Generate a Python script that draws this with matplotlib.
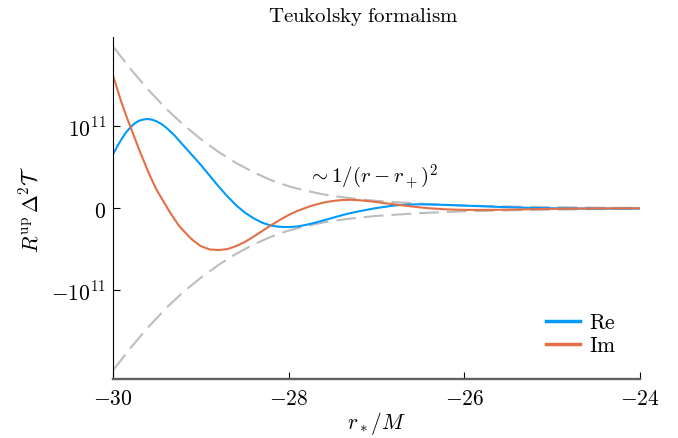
import matplotlib
matplotlib.use("Agg")
import matplotlib.pyplot as plt

plt.rcParams['mathtext.fontset'] = 'cm'
plt.rcParams['font.family'] = ['DejaVu Serif']

# r_*/M sample positions and values (in units of 1e11)
re_x = [-30.0, -29.95, -29.9, -29.85, -29.8, -29.75, -29.7, -29.65, -29.6, -29.55,
        -29.5, -29.45, -29.4, -29.3, -29.2, -29.1, -29.0, -28.9, -28.8, -28.7,
        -28.6, -28.5, -28.4, -28.3, -28.2, -28.1, -28.0, -27.9, -27.8, -27.7,
        -27.6, -27.5, -27.4, -27.3, -27.2, -27.1, -27.0, -26.9, -26.8, -26.7,
        -26.6, -26.5, -26.3, -26.1, -25.9, -25.6, -25.3, -25.0, -24.7, -24.4, -24.0]
re_y = [0.66, 0.76, 0.85, 0.93, 0.99, 1.04, 1.07, 1.085, 1.09, 1.08,
        1.06, 1.03, 0.99, 0.89, 0.77, 0.65, 0.53, 0.40, 0.27, 0.15,
        0.04, -0.05, -0.12, -0.175, -0.21, -0.225, -0.228, -0.22, -0.20, -0.175,
        -0.145, -0.115, -0.085, -0.058, -0.035, -0.015, 0.005, 0.02, 0.035, 0.043,
        0.048, 0.05, 0.046, 0.038, 0.03, 0.018, 0.008, 0.002, -0.001, -0.002, -0.001]

im_x = [-30.0, -29.95, -29.9, -29.85, -29.8, -29.75, -29.7, -29.65, -29.6, -29.55,
        -29.5, -29.45, -29.4, -29.35, -29.3, -29.25, -29.2, -29.1, -29.0, -28.9,
        -28.8, -28.7, -28.6, -28.5, -28.4, -28.3, -28.2, -28.1, -28.0, -27.9,
        -27.8, -27.7, -27.6, -27.5, -27.4, -27.3, -27.2, -27.1, -27.0, -26.9,
        -26.8, -26.7, -26.6, -26.5, -26.4, -26.2, -26.0, -25.8, -25.5, -25.2,
        -24.9, -24.6, -24.3, -24.0]
im_y = [1.62, 1.45, 1.28, 1.13, 0.99, 0.85, 0.71, 0.58, 0.45, 0.33,
        0.22, 0.13, 0.04, -0.05, -0.13, -0.21, -0.27, -0.38, -0.46, -0.50,
        -0.508, -0.497, -0.46, -0.41, -0.345, -0.275, -0.205, -0.14, -0.08, -0.03,
        0.01, 0.045, 0.072, 0.09, 0.102, 0.105, 0.10, 0.09, 0.077, 0.063,
        0.05, 0.037, 0.024, 0.012, 0.002, -0.012, -0.018, -0.019, -0.015, -0.009,
        -0.004, -0.001, 0.001, 0.001]

env_x = [-30.0, -29.8, -29.6, -29.4, -29.2, -29.0, -28.8, -28.6, -28.4, -28.2,
         -28.0, -27.8, -27.6, -27.4, -27.2, -27.0, -26.5, -26.0, -25.5, -25.0,
         -24.5, -24.0]
env_y = [1.975, 1.70, 1.45, 1.22, 1.02, 0.845, 0.69, 0.555, 0.44, 0.345,
         0.27, 0.215, 0.17, 0.138, 0.112, 0.092, 0.057, 0.036, 0.023, 0.015,
         0.009, 0.006]

scale = 1e11
xticks = [-30, -28, -26, -24]
xticklabels = [r'$-30$', r'$-28$', r'$-26$', r'$-24$']
yticks = [-1e11, 0, 1e11]
yticklabels = [r'$-10^{11}$', r'$0$', r'$10^{11}$']

fig = plt.figure(figsize=(6.78, 4.39), dpi=100)
ax = fig.add_axes([113/678, 1-380/439, (640-113)/678, (380-38)/439])

ax.plot(env_x, [v*scale for v in env_y], color='#bdbdbd', lw=1.5, dashes=(9.5, 3.8))
ax.plot(env_x, [-v*scale for v in env_y], color='#bdbdbd', lw=1.5, dashes=(9.5, 3.8))
ax.plot(re_x, [v*scale for v in re_y], color='#009AFA', lw=1.5, label=r'$\mathrm{Re}$')
ax.plot(im_x, [v*scale for v in im_y], color='#E36F47', lw=1.5, label=r'$\mathrm{Im}$')

ax.set_xlim(-30, -24)
ax.set_ylim(-2.08e11, 2.09e11)
ax.set_xticks(xticks)
ax.set_xticklabels(xticklabels, fontsize=15.5)
ax.set_yticks(yticks)
ax.set_yticklabels(yticklabels, fontsize=15.5)
ax.tick_params(direction='in', length=5, width=0.8)
ax.tick_params(axis='x', pad=6)
ax.tick_params(axis='y', pad=5)

for s in ['top', 'right']:
    ax.spines[s].set_visible(False)
ax.spines['left'].set_linewidth(0.8)
ax.spines['left'].set_color('black')
ax.spines['bottom'].set_linewidth(1.7)
ax.spines['bottom'].set_color('#606060')

ax.set_xlabel(r'$r_*/M$', fontsize=15.5, labelpad=0)
ax.set_ylabel(r'$R^{\mathrm{up}}\,\Delta^2\mathcal{T}$', fontsize=15.5, labelpad=6)
fig.text(363/678, 1-17/439, r'$\mathrm{Teukolsky\ formalism}$', fontsize=15,
         ha='center', va='center')

ax.text(-27.78, 0.40e11, r'$\sim 1/(r-r_+)^2$', fontsize=15, va='center', ha='left')

leg = ax.legend(loc='lower right', frameon=False, fontsize=15.5, handlelength=1.6,
                handletextpad=0.4, labelspacing=0.05, borderaxespad=0,
                bbox_to_anchor=(1-15/527, 14/342))
for l in leg.get_lines():
    l.set_linewidth(2.5)

fig.savefig('out.png', dpi=100)
